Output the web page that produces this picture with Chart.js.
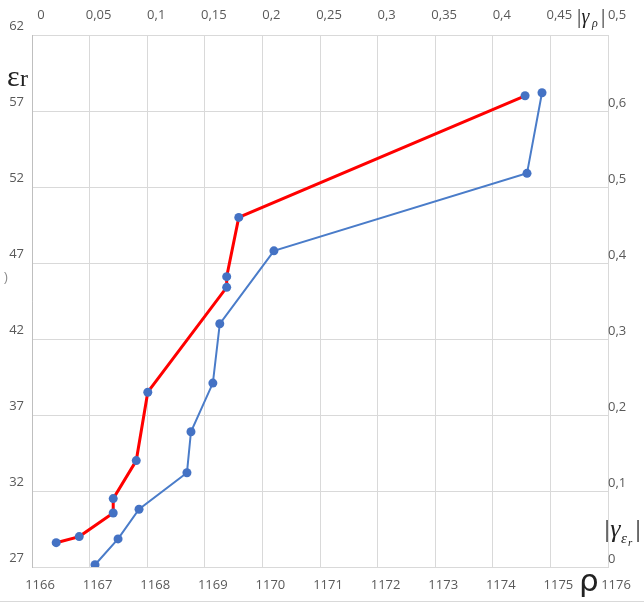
<!DOCTYPE html>
<html>
<head>
<meta charset="utf-8">
<script src="https://cdn.jsdelivr.net/npm/chart.js@4/dist/chart.umd.min.js"></script>
<style>
  html, body { margin: 0; padding: 0; background: #fff; }
  #wrap { width: 644px; height: 606px; }
</style>
</head>
<body>
<div id="wrap"><canvas id="myChart" width="644" height="606"></canvas></div>
<script>
// red curve: eps_r against rho (bottom / left axes)
const rho  = [1166.42, 1166.82, 1167.41, 1167.41, 1167.81, 1168.01, 1169.38, 1169.38, 1169.59, 1174.56];
const epsR = [28.6, 29.0, 30.55, 31.5, 34.0, 38.5, 45.4, 46.1, 50.0, 58.0];

// blue curve: |gamma_eps| against |gamma_rho| (top / right axes)
const gammaRho = [0.0547, 0.0747, 0.0929, 0.1345, 0.138, 0.157, 0.163, 0.210, 0.4297, 0.4427];
const gammaEps = [0.003, 0.037, 0.076, 0.124, 0.178, 0.242, 0.320, 0.416, 0.518, 0.624];

// tick labels
const rhoTicks = [1166, 1167, 1168, 1169, 1170, 1171, 1172, 1173, 1174, 1175, 1176];
const epsTicks = [27, 32, 37, 42, 47, 52, 57, 62];
const gRhoTicks = [0, 0.05, 0.1, 0.15, 0.2, 0.25, 0.3, 0.35, 0.4, 0.45, 0.5];
const gEpsTicks = [0, 0.1, 0.2, 0.3, 0.4, 0.5, 0.6];

const tickFont = { family: "'Liberation Sans Narrow', 'Open Sans', sans-serif", size: 13 };
const tickColor = '#595959';
const gridColor = '#d9d9d9';

function comma(v) {
  return String(Math.round(v * 100) / 100).replace('.', ',');
}
function plain(v) {
  return String(v);
}
function useTicks(arr) {
  return function (scale) { scale.ticks = arr.map(v => ({ value: v })); };
}
function fixSize(prop, px) {
  return function (scale) { scale[prop] = px; };
}

// axis titles drawn as plain canvas text
const titles = {
  id: 'titles',
  afterDraw(chart) {
    const c = chart.ctx;
    c.save();
    c.fillStyle = '#222';
    c.textBaseline = 'alphabetic';

    c.font = "30px 'Liberation Serif', serif";
    c.fillText('\u03b5', 7, 86);
    c.font = "24px 'Liberation Serif', serif";
    c.fillText('r', 20, 86);

    c.font = "31px 'DejaVu Sans', sans-serif";
    c.fillText('\u03c1', 579, 591);

    // |γρ| near top right
    c.font = "italic 20px 'Liberation Serif', serif";
    c.fillText('|\u03b3', 576, 23);
    c.font = "italic 12px 'Liberation Serif', serif";
    c.fillText('\u03c1', 592, 27);
    c.font = "italic 20px 'Liberation Serif', serif";
    c.fillText('|', 600, 23);

    // |γεr| on the right
    c.font = "italic 26px 'Liberation Serif', serif";
    c.fillText('|\u03b3', 603, 537);
    c.font = "italic 15px 'Liberation Serif', serif";
    c.fillText('\u03b5', 621, 543);
    c.font = "italic 11px 'Liberation Serif', serif";
    c.fillText('r', 628, 546);
    c.font = "italic 26px 'Liberation Serif', serif";
    c.fillText('|', 634, 537);

    c.font = "12px 'Liberation Sans', sans-serif";
    c.fillStyle = '#888';
    c.fillText(')', 4, 281);

    c.strokeStyle = '#d9d9d9';
    c.lineWidth = 1;
    c.beginPath();
    c.moveTo(0, 601.5); c.lineTo(644, 601.5);
    c.stroke();
    c.restore();
  }
};

var ctx = document.getElementById('myChart').getContext('2d');
var myChart = new Chart(ctx, {
  type: 'scatter',
  data: {
    datasets: [{
      label: 'eps_r(rho)',
      data: rho.map((x, i) => ({ x: x, y: epsR[i] })),
      xAxisID: 'x',
      yAxisID: 'y',
      showLine: true,
      borderColor: '#ff0000',
      borderWidth: 3,
      pointRadius: 4.5,
      pointBackgroundColor: '#4472c4',
      pointBorderColor: '#4472c4',
      pointBorderWidth: 0
    }, {
      label: 'gamma',
      data: gammaRho.map((x, i) => ({ x: x, y: gammaEps[i] })),
      xAxisID: 'x2',
      yAxisID: 'y2',
      showLine: true,
      borderColor: '#4a7cc9',
      borderWidth: 2,
      pointRadius: 4.5,
      pointBackgroundColor: '#4472c4',
      pointBorderColor: '#4472c4',
      pointBorderWidth: 0
    }]
  },
  options: {
    responsive: false,
    animation: false,
    layout: { padding: 0 },
    plugins: { legend: { display: false }, tooltip: { enabled: false } },
    scales: {
      x: {
        type: 'linear', position: 'bottom', min: 1166, max: 1176,
        afterBuildTicks: useTicks(rhoTicks),
        afterFit: fixSize('height', 39),
        grid: { color: gridColor, drawTicks: false },
        border: { color: gridColor },
        ticks: { font: tickFont, color: tickColor, padding: 10, labelOffset: 8, maxRotation: 0, autoSkip: false, callback: plain }
      },
      x2: {
        type: 'linear', position: 'top', min: 0, max: 0.5,
        afterBuildTicks: useTicks(gRhoTicks),
        afterFit: fixSize('height', 35),
        grid: { display: false, drawTicks: false },
        border: { display: false },
        ticks: { font: tickFont, color: tickColor, padding: 12, labelOffset: 9, maxRotation: 0, autoSkip: false, callback: comma }
      },
      y: {
        type: 'linear', position: 'left', min: 27, max: 62,
        afterBuildTicks: useTicks(epsTicks),
        afterFit: fixSize('width', 32),
        grid: { color: gridColor, drawTicks: false },
        border: { color: '#bfbfbf' },
        ticks: { font: tickFont, color: tickColor, padding: 8, labelOffset: -9, autoSkip: false, callback: plain }
      },
      y2: {
        type: 'linear', position: 'right', min: 0, max: 0.7,
        afterBuildTicks: useTicks(gEpsTicks),
        afterFit: fixSize('width', 36),
        grid: { display: false, drawTicks: false },
        border: { display: false },
        ticks: { font: tickFont, color: tickColor, padding: 0, labelOffset: -8, autoSkip: false, callback: comma }
      }
    }
  },
  plugins: [titles]
});
</script>
</body>
</html>
